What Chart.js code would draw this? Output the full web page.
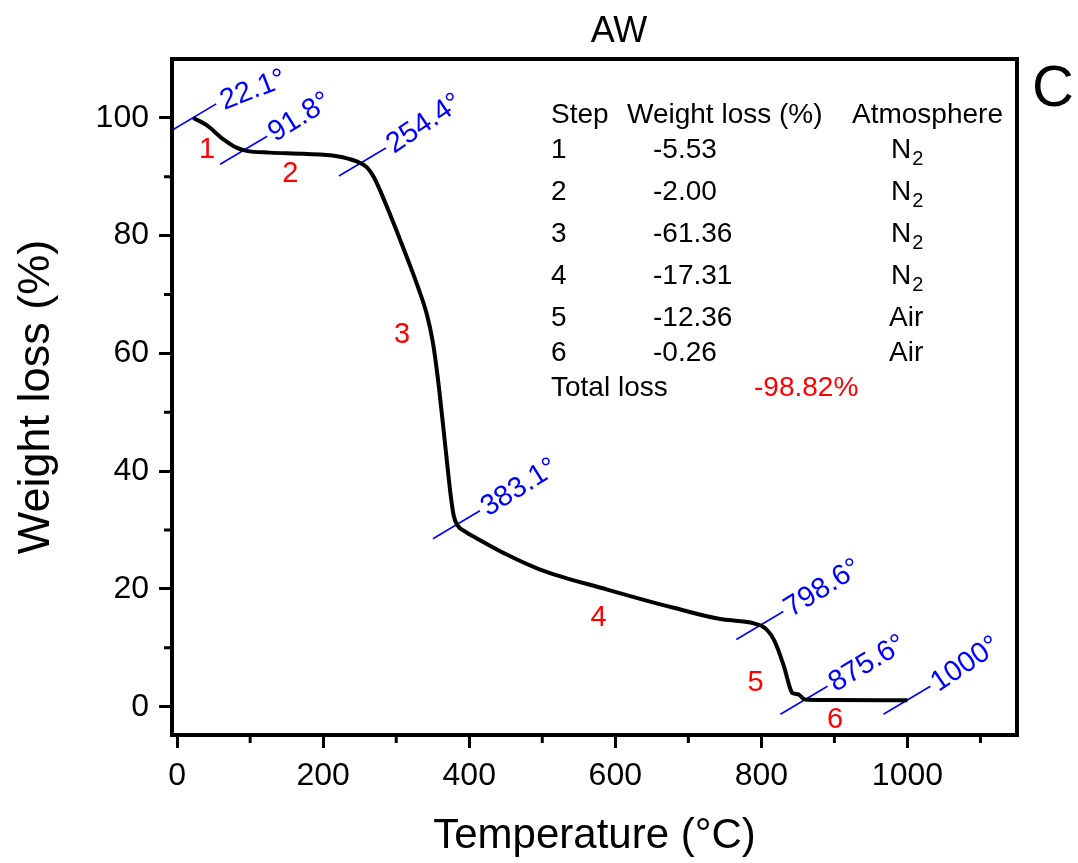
<!DOCTYPE html>
<html>
<head>
<meta charset="utf-8">
<title>AW</title>
<script src="https://cdn.jsdelivr.net/npm/chart.js@4.4.1/dist/chart.umd.min.js"></script>
<style>
  html, body { margin: 0; padding: 0; background: #fff; }
  #wrap { width: 1078px; height: 863px; position: relative; }
</style>
</head>
<body>
<div id="wrap"><canvas id="tgaChart"></canvas></div>
<script>
// TGA curve
const temperature = [22.1, 40, 63, 82, 95, 127, 173, 219, 246, 260, 270, 285, 300, 315, 330, 342, 350, 357, 364, 370, 375, 379, 384, 395, 406, 452, 497, 589, 680, 748, 800, 817, 831, 840, 843, 851, 857, 862, 900, 1000];
const weight      = [100.0, 98.8, 96.4, 94.9, 94.4, 94.1, 93.9, 93.5, 92.6, 91.6, 89.8, 85.6, 81.0, 76.2, 71.2, 66.6, 62.0, 55.8, 48.0, 41.0, 35.5, 32.3, 30.8, 29.7, 28.9, 25.8, 23.3, 19.9, 16.8, 14.8, 13.75, 11.4, 6.8, 2.9, 2.3, 2.1, 1.4, 1.2, 1.15, 1.1];

const xTicks = [0, 200, 400, 600, 800, 1000];
const yTicks = [0, 20, 40, 60, 80, 100];
const xMinor = [100, 300, 500, 700, 900, 1100];
const yMinor = [10, 30, 50, 70, 90];

// step boundaries: where the blue marks cross the curve
const markTemp   = [22.1, 91.8, 254.4, 383.1, 798.6, 859, 1000];
const markWeight = [100, 94.5, 92.5, 30.9, 13.8, 1.1, 1.1];
const markLabels = ['22.1°', '91.8°', '254.4°', '383.1°', '798.6°', '875.6°', '1000°'];
const markAngle  = [21, 32, 34, 32, 32, 31, 34]; // text tilt, degrees

// red step numbers
const stepTemp   = [41, 155, 308, 577, 792, 901];
const stepWeight = [94.6, 90.4, 63.2, 15.1, 4.1, -2.2];

// table
const steps     = ['1', '2', '3', '4', '5', '6'];
const stepLoss  = ['-5.53', '-2.00', '-61.36', '-17.31', '-12.36', '-0.26'];
const stepGas   = ['N2', 'N2', 'N2', 'N2', 'Air', 'Air'];
const totalLoss = '-98.82%';

const FONT = "'Liberation Sans', Arial, sans-serif";

const decor = {
  id: 'decor',
  beforeDatasetsDraw(chart) {
    const { ctx, chartArea: a, scales: { x, y } } = chart;
    ctx.save();
    ctx.beginPath();
    ctx.rect(a.left, a.top, a.right - a.left, a.bottom - a.top);
    ctx.clip();
    ctx.strokeStyle = '#0000ff';
    ctx.lineWidth = 1.6;
    markTemp.forEach((t, i) => {
      const px = x.getPixelForValue(t);
      const py = y.getPixelForValue(markWeight[i]);
      ctx.beginPath();
      ctx.moveTo(px - 24, py + 14);
      ctx.lineTo(px + 23, py - 14);
      ctx.stroke();
    });
    ctx.restore();
  },
  afterDatasetsDraw(chart) {
    const { ctx, scales: { x, y } } = chart;
    ctx.save();

    // blue temperature labels
    ctx.fillStyle = '#0000ff';
    ctx.font = '29px ' + FONT;
    ctx.textAlign = 'left';
    ctx.textBaseline = 'alphabetic';
    markTemp.forEach((t, i) => {
      const px = x.getPixelForValue(t) + 31;
      const py = y.getPixelForValue(markWeight[i]) - 8;
      ctx.save();
      ctx.translate(px, py);
      ctx.rotate(-markAngle[i] * Math.PI / 180);
      ctx.fillText(markLabels[i], 0, 0);
      ctx.restore();
    });

    // red step numbers
    ctx.fillStyle = '#ff0000';
    ctx.font = '29px ' + FONT;
    ctx.textAlign = 'center';
    ctx.textBaseline = 'middle';
    stepTemp.forEach((t, i) => {
      ctx.fillText(steps[i], x.getPixelForValue(t), y.getPixelForValue(stepWeight[i]));
    });

    // table
    ctx.fillStyle = '#000';
    ctx.font = '28px ' + FONT;
    ctx.textAlign = 'left';
    ctx.fillText('Step', 551, 115);
    ctx.fillText('Weight loss (%)', 627, 115);
    ctx.fillText('Atmosphere', 852, 115);
    const rowY = [150, 192, 234, 276, 318, 353];
    steps.forEach((s, i) => {
      ctx.font = '28px ' + FONT;
      ctx.fillText(s, 551, rowY[i]);
      ctx.fillText(stepLoss[i], 653, rowY[i]);
      if (stepGas[i] === 'N2') {
        ctx.fillText('N', 891, rowY[i]);
        const w = ctx.measureText('N').width;
        ctx.font = '20px ' + FONT;
        ctx.fillText('2', 891 + w + 1, rowY[i] + 9);
      } else {
        ctx.fillText(stepGas[i], 889, rowY[i]);
      }
    });
    ctx.font = '28px ' + FONT;
    ctx.fillText('Total loss', 551, 388);
    ctx.fillStyle = '#ff0000';
    ctx.fillText(totalLoss, 754, 388);

    ctx.restore();
  },
  afterDraw(chart) {
    const { ctx, chartArea: a, scales: { x, y } } = chart;
    ctx.save();
    // frame
    ctx.strokeStyle = '#000';
    ctx.lineWidth = 4;
    ctx.strokeRect(a.left, a.top, a.right - a.left, a.bottom - a.top);
    // minor ticks
    ctx.lineWidth = 3;
    ctx.beginPath();
    xMinor.forEach(v => {
      const px = x.getPixelForValue(v);
      ctx.moveTo(px, a.bottom);
      ctx.lineTo(px, a.bottom + 8);
    });
    yMinor.forEach(v => {
      const py = y.getPixelForValue(v);
      ctx.moveTo(a.left, py);
      ctx.lineTo(a.left - 8, py);
    });
    ctx.stroke();
    // title and panel letter
    ctx.fillStyle = '#000';
    ctx.textAlign = 'center';
    ctx.textBaseline = 'middle';
    ctx.font = '36px ' + FONT;
    ctx.fillText('AW', 619, 32);
    ctx.font = '58px ' + FONT;
    ctx.fillText('C', 1053, 90);
    ctx.restore();
  }
};

const canvas = document.getElementById('tgaChart');
new Chart(canvas, {
  type: 'line',
  data: {
    datasets: [{
      data: temperature.map((t, i) => ({ x: t, y: weight[i] })),
      borderColor: '#000',
      borderWidth: 4,
      pointRadius: 0,
      fill: false,
      cubicInterpolationMode: 'monotone'
    }]
  },
  options: {
    responsive: true,
    maintainAspectRatio: false,
    animation: false,
    layout: { padding: { left: 0, top: 59, right: 61, bottom: 0 } },
    plugins: {
      legend: { display: false },
      tooltip: { enabled: false }
    },
    scales: {
      x: {
        type: 'linear',
        min: -7,
        max: 1150,
        afterBuildTicks: s => { s.ticks = xTicks.map(v => ({ value: v })); },
        afterFit: s => { s.height = 128; },
        grid: { drawOnChartArea: false, drawTicks: true, tickLength: 13, tickWidth: 3, tickColor: '#000' },
        border: { display: false },
        ticks: {
          color: '#000', font: { family: FONT, size: 32 }, padding: 9,
          maxRotation: 0, autoSkip: false, callback: v => String(v)
        },
        title: {
          display: true, text: 'Temperature (°C)', color: '#000',
          font: { family: FONT, size: 42 }, padding: { top: 0, bottom: 1 }
        }
      },
      y: {
        min: -4.8,
        max: 110,
        afterBuildTicks: s => { s.ticks = yTicks.map(v => ({ value: v })); },
        afterFit: s => { s.width = 172; },
        grid: { drawOnChartArea: false, drawTicks: true, tickLength: 13, tickWidth: 3, tickColor: '#000' },
        border: { display: false },
        ticks: {
          color: '#000', font: { family: FONT, size: 32 }, padding: 10,
          autoSkip: false, callback: v => String(v)
        },
        title: {
          display: true, text: 'Weight loss (%)', color: '#000',
          font: { family: FONT, size: 45 }, padding: { top: 10, bottom: 0 }
        }
      }
    }
  },
  plugins: [decor]
});
</script>
</body>
</html>
